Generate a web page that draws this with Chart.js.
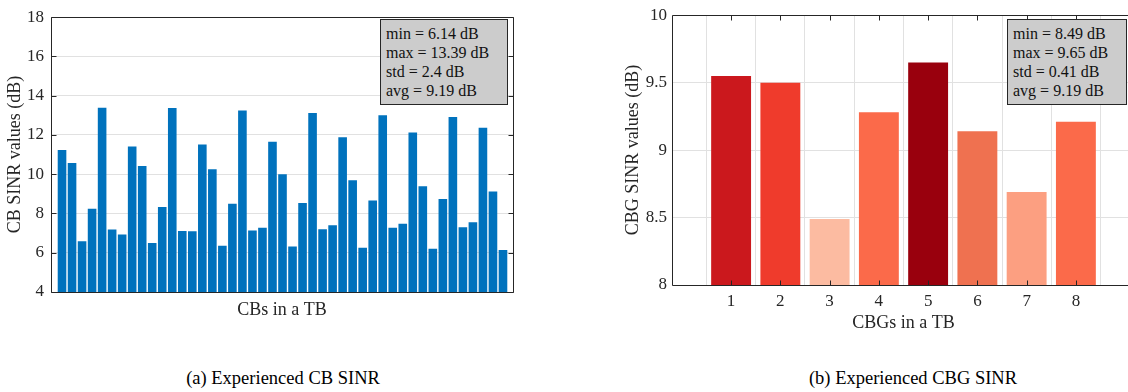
<!DOCTYPE html>
<html><head><meta charset="utf-8">
<script src="https://cdn.jsdelivr.net/npm/chart.js@4"></script>
<style>
html,body{margin:0;padding:0;width:1128px;height:392px;overflow:hidden;background:#fff;}
#c1{position:absolute;left:0;top:0;}
#c2{position:absolute;left:600px;top:0;}
.box{position:absolute;background:#cccccc;border:1px solid #262626;font-family:"Liberation Serif","Times New Roman",serif;font-size:16px;line-height:19px;color:#111;padding:4px 0 0 5px;box-sizing:border-box;white-space:pre;}
.cap{position:absolute;font-family:"Liberation Serif","Times New Roman",serif;font-size:18.5px;line-height:22px;color:#000;top:367px;transform:translateX(-50%);white-space:nowrap;}
</style></head>
<body>
<canvas id="c1" width="530" height="321"></canvas>
<canvas id="c2" width="540" height="334"></canvas>
<div id="box1" class="box" style="left:380px;top:19px;width:128px;height:86px;"></div>
<div id="box2" class="box" style="left:1007px;top:19px;width:120px;height:86px;"></div>
<div id="cap1" class="cap" style="left:283px;"></div>
<div id="cap2" class="cap" style="left:913px;"></div>
<script>
// ---- data ----
const cbIndex = [1,2,3,4,5,6,7,8,9,10,11,12,13,14,15,16,17,18,19,20,21,22,23,24,25,26,27,28,29,30,31,32,33,34,35,36,37,38,39,40,41,42,43,44,45];
const cbSinr = [11.24,10.57,6.59,8.24,13.39,7.18,6.93,11.41,10.42,6.50,8.33,13.37,7.11,7.10,11.51,10.25,6.35,8.49,13.25,7.13,7.27,11.66,10.00,6.32,8.54,13.12,7.20,7.40,11.88,9.69,6.25,8.66,13.00,7.27,7.48,12.12,9.39,6.20,8.74,12.92,7.30,7.55,12.37,9.12,6.14];
const cbYTicks = [4,6,8,10,12,14,16,18];
const cbYTickLabels = ['4','6','8','10','12','14','16','18'];
const cbStats = ['min = 6.14 dB','max = 13.39 dB','std = 2.4 dB','avg = 9.19 dB'];

const cbgIndex = [1,2,3,4,5,6,7,8];
const cbgLabels = ['1','2','3','4','5','6','7','8'];
const cbgSinr = [9.55,9.50,8.49,9.28,9.65,9.14,8.69,9.21];
const cbgYTicks = [8,8.5,9,9.5,10];
const cbgYTickLabels = ['8','8.5','9','9.5','10'];
const cbgStats = ['min = 8.49 dB','max = 9.65 dB','std = 0.41 dB','avg = 9.19 dB'];

const captions = ['(a) Experienced CB SINR','(b) Experienced CBG SINR'];
const titles = {cbX:'CBs in a TB', cbY:'CB SINR values (dB)', cbgX:'CBGs in a TB', cbgY:'CBG SINR values (dB)'};

// ---- styles ----
const cbgColors = ['#cb181d','#ef3b2c','#fcbba1','#fb6a4a','#99000d','#ef7150','#fc9f81','#fb6a4a'];
const FONT = '"Liberation Serif","Times New Roman",serif';
const AX = '#262626';
const GRID = '#e1e1e1';

const boxPlugin = {
  id: 'boxTicks',
  afterDraw(chart, args, o) {
    const {ctx, chartArea: a, scales} = chart;
    const L = Math.round(a.left)+0.5, T = Math.round(a.top)+0.5, R = Math.round(a.right)+0.5, B = Math.round(a.bottom)+0.5;
    ctx.save();
    ctx.strokeStyle = AX; ctx.lineWidth = 1;
    ctx.beginPath();
    ctx.moveTo(L,T); ctx.lineTo(R,T); ctx.lineTo(R,B); ctx.lineTo(L,B); ctx.closePath();
    const len = 5;
    if (o.yTicks) {
      scales.y.ticks.forEach(t => {
        const p = Math.round(scales.y.getPixelForValue(t.value))+0.5;
        ctx.moveTo(L,p); ctx.lineTo(L+len,p);
        ctx.moveTo(R,p); ctx.lineTo(R-len,p);
      });
    }
    if (o.xTicks) {
      scales.x.ticks.forEach(t => {
        const p = Math.round(scales.x.getPixelForValue(t.value))+0.5;
        ctx.moveTo(p,B); ctx.lineTo(p,B-len);
        ctx.moveTo(p,T); ctx.lineTo(p,T+len);
      });
    }
    ctx.stroke();
    ctx.restore();
  }
};

function tickFont(){ return {family: FONT, size: 17}; }
function titleFont(){ return {family: FONT, size: 18}; }

// ---- chart (a) ----
new Chart(document.getElementById('c1'), {
  type: 'bar',
  data: {
    datasets: [{
      data: cbIndex.map((x,i) => ({x: x, y: cbSinr[i]})),
      backgroundColor: '#0072bd',
      borderWidth: 0,
      barPercentage: 0.86,
      categoryPercentage: 1
    }]
  },
  plugins: [boxPlugin],
  options: {
    responsive: false, animation: false, devicePixelRatio: 1,
    layout: {padding: {top: 11, right: 17, bottom: 0, left: 0}},
    plugins: {legend: {display: false}, tooltip: {enabled: false}, boxTicks: {yTicks: true, xTicks: false}},
    scales: {
      x: {
        type: 'linear', min: -0.1, max: 46, offset: false,
        grid: {display: false}, border: {display: false},
        ticks: {display: false},
        afterFit: s => { s.height = 29; },
        title: {display: true, text: titles.cbX, color: AX, font: titleFont(), padding: {top: 7, bottom: 0}}
      },
      y: {
        type: 'linear', min: 4, max: 18,
        afterBuildTicks: s => { s.ticks = cbYTicks.map(v => ({value: v})); },
        afterFit: s => { s.width = 51; },
        grid: {color: GRID, drawTicks: false}, border: {display: false},
        ticks: {padding: 7, color: AX, font: tickFont(), callback: (v, i) => cbYTickLabels[i]},
        title: {display: true, text: titles.cbY, color: AX, font: titleFont(), padding: {top: 4.7, bottom: 0}}
      }
    }
  }
});

// ---- chart (b) ----
new Chart(document.getElementById('c2'), {
  type: 'bar',
  data: {
    datasets: [{
      data: cbgIndex.map((x,i) => ({x: x, y: cbgSinr[i]})),
      backgroundColor: cbgColors,
      borderWidth: 0,
      barPercentage: 0.81,
      categoryPercentage: 1
    }]
  },
  plugins: [boxPlugin],
  options: {
    responsive: false, animation: false, devicePixelRatio: 1,
    layout: {padding: {top: 11, right: 5, bottom: 0, left: 0}},
    plugins: {legend: {display: false}, tooltip: {enabled: false}, boxTicks: {yTicks: false, xTicks: true}},
    scales: {
      x: {
        type: 'linear', min: -0.2, max: 9.2, offset: false,
        afterBuildTicks: s => { s.ticks = cbgIndex.map(v => ({value: v})); },
        afterFit: s => { s.height = 49; },
        grid: {color: GRID, drawTicks: false}, border: {display: false},
        ticks: {padding: 6, color: AX, font: tickFont(), callback: (v, i) => cbgLabels[i]},
        title: {display: true, text: titles.cbgX, color: AX, font: titleFont(), padding: {top: 3, bottom: 0}}
      },
      y: {
        type: 'linear', min: 8, max: 10,
        afterBuildTicks: s => { s.ticks = cbgYTicks.map(v => ({value: v})); },
        afterFit: s => { s.width = 72; },
        grid: {color: GRID, drawTicks: false}, border: {display: false},
        ticks: {padding: 5, color: AX, font: tickFont(), callback: (v, i) => cbgYTickLabels[i]},
        title: {display: true, text: titles.cbgY, color: AX, font: titleFont(), padding: {top: 22.2, bottom: 0}}
      }
    }
  }
});

document.getElementById('box1').textContent = cbStats.join('\n');
document.getElementById('box2').textContent = cbgStats.join('\n');
document.getElementById('cap1').textContent = captions[0];
document.getElementById('cap2').textContent = captions[1];
</script>
</body></html>
